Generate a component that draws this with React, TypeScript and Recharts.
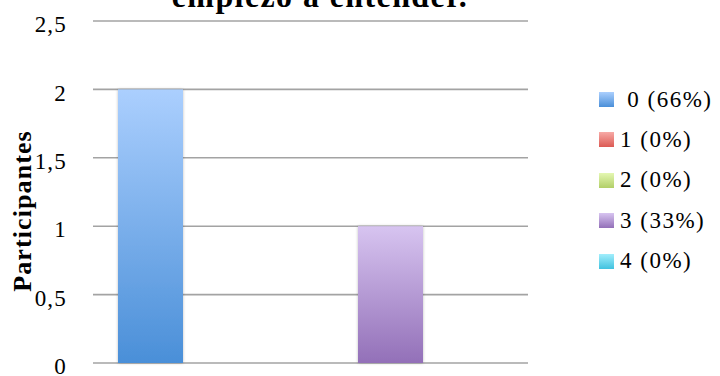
import React from 'react';
import { BarChart, Bar, XAxis, YAxis, CartesianGrid } from 'recharts';

const categories = [''];
const seriesNames = ['0 (66%)', '1 (0%)', '2 (0%)', '3 (33%)', '4 (0%)'];
const seriesValues = [2, 0, 0, 1, 0];
const yTicks = [0, 0.5, 1, 1.5, 2, 2.5];

const gradients = [
  ['#abcffe', '#4a8fd8'],
  ['#f7aaa6', '#dc5a54'],
  ['#e4f7b2', '#b2cf68'],
  ['#d7c4f0', '#9370b8'],
  ['#a2eefc', '#40c2df'],
];

const data = categories.map((name) => {
  const row: any = { name };
  seriesValues.forEach((v, i) => {
    row['s' + i] = v;
  });
  return row;
});

const serif = '"Liberation Serif", "Times New Roman", serif';

const BarShape = (props: any) => {
  const { x, y, width, height, fill } = props;
  if (!height || height <= 0) return null;
  return <rect x={x} y={y} width={width} height={height} fill={fill} filter="url(#barShadow)" />;
};

export default function App() {
  return (
    <div style={{ position: 'absolute', left: 0, top: 0, width: 720, height: 376, background: '#fff', overflow: 'hidden' }}>
      <div
        style={{
          position: 'absolute',
          left: 0,
          width: 640,
          textAlign: 'center',
          top: -22,
          fontFamily: serif,
          fontWeight: 'bold',
          fontSize: 32,
          letterSpacing: 1.4,
          lineHeight: '36px',
          color: '#000',
        }}
      >
        empiezo a entender.
      </div>
      <BarChart
        width={720}
        height={376}
        data={data}
        margin={{ top: 21, right: 192, bottom: 13, left: 0 }}
        barGap={15}
        barSize={65}
      >
        <defs>
          {gradients.map((g, i) => (
            <linearGradient key={i} id={'grad' + i} x1="0" y1="0" x2="0" y2="1">
              <stop offset="0%" stopColor={g[0]} />
              <stop offset="100%" stopColor={g[1]} />
            </linearGradient>
          ))}
          <filter id="barShadow" x="-20%" y="-5%" width="140%" height="110%">
            <feDropShadow dx="0" dy="0" stdDeviation="1.5" floodColor="#000" floodOpacity="0.25" />
          </filter>
        </defs>
        <CartesianGrid vertical={false} stroke="#a3a3a3" strokeWidth={1.6} />
        <XAxis dataKey="name" hide />
        <YAxis
          width={93}
          domain={[0, 2.5]}
          ticks={yTicks}
          interval={0}
          axisLine={false}
          tickLine={false}
          tickSize={0}
          tickMargin={26}
          tickFormatter={(v: number) => String(v).replace('.', ',')}
          tick={{ fontFamily: serif, fontSize: 23, fill: '#000', dy: 3, letterSpacing: 1.2 }}
          label={() => (
            <text
              x={31}
              y={211}
              transform="rotate(-90, 31, 211)"
              textAnchor="middle"
              fontFamily={serif}
              fontWeight="bold"
              fontSize={26}
              letterSpacing={1.1}
              fill="#000"
            >
              Participantes
            </text>
          )}
        />
        {seriesNames.map((n, i) => (
          <Bar
            key={n}
            dataKey={'s' + i}
            name={n}
            fill={`url(#grad${i})`}
            shape={BarShape}
            isAnimationActive={false}
          />
        ))}
      </BarChart>
      {seriesNames.map((n, i) => (
        <div
          key={n}
          style={{
            position: 'absolute',
            left: 599,
            top: 99.5 + i * 40.4 - 13,
            height: 26,
            display: 'flex',
            alignItems: 'center',
            fontFamily: serif,
            fontSize: 23,
            letterSpacing: 1.5,
            whiteSpace: 'pre',
            color: '#000',
          }}
        >
          <span
            style={{
              display: 'inline-block',
              width: 15,
              height: 15,
              marginRight: 6,
              background: `linear-gradient(${gradients[i][0]}, ${gradients[i][1]})`,
            }}
          />
          <span>{i === 0 ? ' ' + n : n}</span>
        </div>
      ))}
    </div>
  );
}
